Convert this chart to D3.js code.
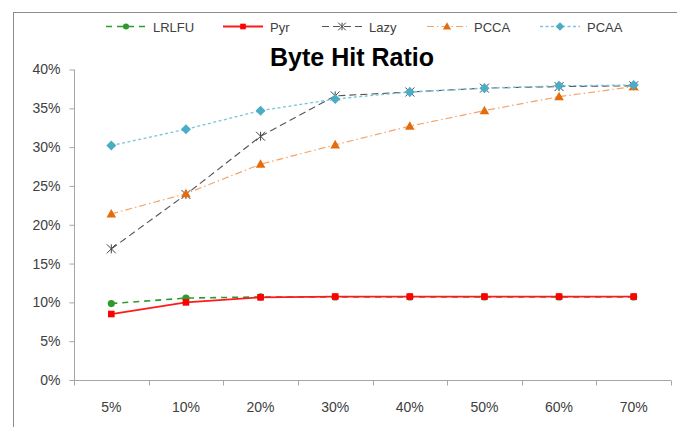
<!DOCTYPE html>
<html>
<head>
<meta charset="utf-8">
<script src="https://cdn.jsdelivr.net/npm/d3@7"></script>
<style>
  html, body { margin: 0; padding: 0; background: #fff; }
  svg { display: block; }
  text { font-family: "Liberation Sans", Arial, sans-serif; }
</style>
</head>
<body>
<svg id="chart" width="677" height="427"></svg>
<script>
// Cache size categories (x axis)
const categories = ["5%", "10%", "20%", "30%", "40%", "50%", "60%", "70%"];

// Byte hit ratio (%) per algorithm
const lrlfu = [9.85, 10.55, 10.7, 10.7, 10.7, 10.7, 10.7, 10.7];
const pyr   = [8.5, 10.0, 10.65, 10.75, 10.75, 10.75, 10.75, 10.75];
const lazy  = [16.9, 23.9, 31.4, 36.6, 37.1, 37.6, 37.8, 37.9];
const pcca  = [21.4, 24.0, 27.8, 30.3, 32.7, 34.7, 36.5, 37.8];
const pcaa  = [30.2, 32.3, 34.7, 36.2, 37.1, 37.6, 37.9, 38.0];

// Y axis ticks
const yTicks = [0, 5, 10, 15, 20, 25, 30, 35, 40];

const seriesNames = ["LRLFU", "Pyr", "Lazy", "PCCA", "PCAA"];

const series = [
  { name: "LRLFU", values: lrlfu, line: "#2e9a2e", mark: "#2e9a2e", dash: "6,5", width: 1.6, shape: "circle" },
  { name: "Pyr",   values: pyr,   line: "#ff1a1a", mark: "#ff0000", dash: null,  width: 1.8, shape: "square" },
  { name: "Lazy",  values: lazy,  line: "#555555", mark: "#444444", dash: "7,4", width: 1.1, shape: "star" },
  { name: "PCCA",  values: pcca,  line: "#f4a46a", mark: "#e46c0a", dash: "7,3,1.5,3", width: 1.2, shape: "triangle" },
  { name: "PCAA",  values: pcaa,  line: "#7cc4de", mark: "#4bacc6", dash: "3,2.5", width: 1.3, shape: "diamond" }
];

const svg = d3.select("#chart");

// Chart frame
svg.append("rect")
  .attr("x", 13.5).attr("y", 12.5)
  .attr("width", 700).attr("height", 450)
  .attr("fill", "none").attr("stroke", "#8c8c8c").attr("stroke-width", 1);

const x = d3.scaleBand().domain(categories).range([74, 671]).padding(0);
const y = d3.scaleLinear().domain([0, 40]).range([380, 69.5]);

// Y axis
const yAxis = d3.axisLeft(y).tickValues(yTicks).tickFormat(d => d + "%").tickSize(5).tickPadding(9);
const gy = svg.append("g").attr("transform", "translate(74.5,0)").call(yAxis);
gy.select(".domain").attr("stroke", "#a6a6a6").attr("d", `M0,${y(40)}V${y(0)}`);
gy.selectAll(".tick line").attr("stroke", "#a6a6a6");
gy.selectAll(".tick text").attr("fill", "#404040").style("font-size", "14px")
  .style("font-family", "'Liberation Sans', Arial, sans-serif");

// X axis: tick marks between categories
const gx = svg.append("g").attr("transform", "translate(0,380.5)");
gx.append("line").attr("x1", x.range()[0]).attr("x2", x.range()[1])
  .attr("stroke", "#a6a6a6");
const bounds = categories.map(c => x(c)).concat([x.range()[1]]);
gx.selectAll("line.tk").data(bounds).enter().append("line")
  .attr("class", "tk")
  .attr("x1", d => Math.round(d) + 0.5).attr("x2", d => Math.round(d) + 0.5)
  .attr("y1", 0).attr("y2", 5).attr("stroke", "#a6a6a6");
gx.selectAll("text").data(categories).enter().append("text")
  .attr("x", d => x(d) + x.bandwidth() / 2)
  .attr("y", 31)
  .attr("text-anchor", "middle")
  .attr("fill", "#404040")
  .style("font-size", "14px")
  .text(d => d);

// Marker shapes
function drawMarker(g, shape, color, cx, cy, k = 1) {
  if (shape === "circle") {
    g.append("circle").attr("cx", cx).attr("cy", cy).attr("r", 3.6 * k).attr("fill", color);
  } else if (shape === "square") {
    const h = 3.3 * k;
    g.append("rect").attr("x", cx - h).attr("y", cy - h).attr("width", 2 * h).attr("height", 2 * h).attr("fill", color);
  } else if (shape === "triangle") {
    g.append("path").attr("d", `M${cx},${cy - 5 * k}L${cx + 4.8 * k},${cy + 3.6 * k}L${cx - 4.8 * k},${cy + 3.6 * k}Z`).attr("fill", color);
  } else if (shape === "diamond") {
    const r = 5 * k;
    g.append("path").attr("d", `M${cx},${cy - r}L${cx + r},${cy}L${cx},${cy + r}L${cx - r},${cy}Z`).attr("fill", color);
  } else if (shape === "star") {
    const r = 4.5 * k;
    g.append("path")
      .attr("d", `M${cx - r},${cy - r}L${cx + r},${cy + r}M${cx + r},${cy - r}L${cx - r},${cy + r}M${cx},${cy - r}L${cx},${cy + r}`)
      .attr("stroke", color).attr("stroke-width", 1).attr("fill", "none");
  }
}

const line = d3.line()
  .x((d, i) => x(categories[i]) + x.bandwidth() / 2)
  .y(d => y(d));

// Series lines and markers
series.forEach(s => {
  const g = svg.append("g");
  g.append("path")
    .attr("d", line(s.values))
    .attr("fill", "none")
    .attr("stroke", s.line)
    .attr("stroke-width", s.width)
    .attr("stroke-dasharray", s.dash);
  s.values.forEach((v, i) => {
    drawMarker(g, s.shape, s.mark, x(categories[i]) + x.bandwidth() / 2, y(v));
  });
});

// Legend
const legendX = [106, 223, 322, 427, 540];
const lg = svg.append("g");
series.forEach((s, i) => {
  const lx = legendX[i], ly = 26.5;
  lg.append("line").attr("x1", lx).attr("x2", lx + 40).attr("y1", ly).attr("y2", ly)
    .attr("stroke", s.line).attr("stroke-width", s.width).attr("stroke-dasharray", s.dash);
  drawMarker(lg, s.shape, s.mark, lx + 20, ly, 0.85);
  lg.append("text").attr("x", lx + 47).attr("y", ly + 5)
    .attr("fill", "#404040").style("font-size", "13px").text(seriesNames[i]);
});

// Title
svg.append("text")
  .attr("x", 352).attr("y", 66)
  .attr("text-anchor", "middle")
  .attr("fill", "#000")
  .style("font-size", "25px")
  .style("font-weight", "bold")
  .text("Byte Hit Ratio");
</script>
</body>
</html>
